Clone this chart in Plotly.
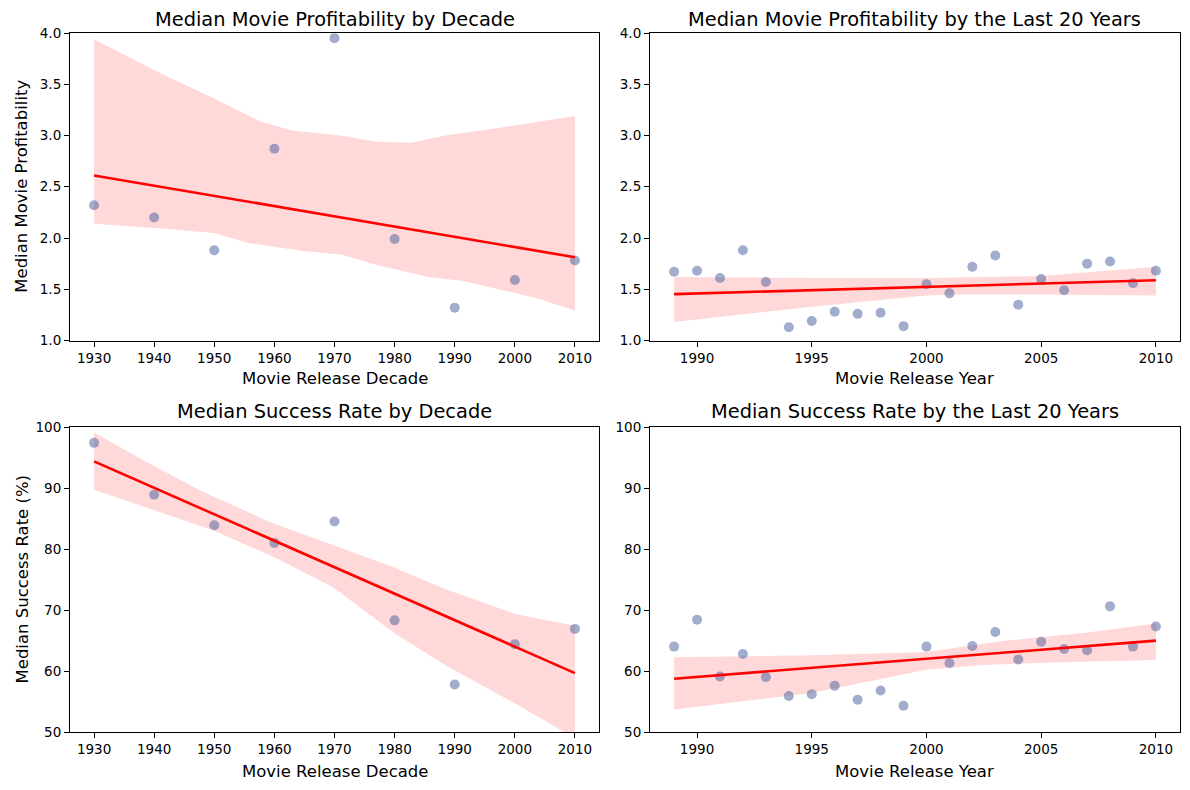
import numpy as np
import plotly.graph_objects as go

# ---------------- data ----------------
decades = [1930, 1940, 1950, 1960, 1970, 1980, 1990, 2000, 2010]
decade_profit = [2.32, 2.20, 1.88, 2.87, 3.95, 1.99, 1.32, 1.59, 1.78]
decade_success = [97.4, 88.9, 83.9, 81.0, 84.5, 68.3, 57.8, 64.4, 66.9]

years = list(range(1989, 2011))
year_profit = [1.67, 1.68, 1.61, 1.88, 1.57, 1.13, 1.19, 1.28, 1.26, 1.27, 1.14,
               1.55, 1.46, 1.72, 1.83, 1.35, 1.60, 1.49, 1.75, 1.77, 1.56, 1.68]
year_success = [64.0, 68.4, 59.1, 62.8, 59.0, 55.9, 56.2, 57.6, 55.3, 56.8, 54.3,
                64.0, 61.3, 64.1, 66.4, 61.9, 64.8, 63.6, 63.4, 70.6, 64.0, 67.3]

# confidence bands (bootstrap CI)
tl_hi_x = [1930, 1941.3, 1950.0, 1957.6, 1962.9, 1971.0, 1976.9, 1982.7, 1988.5, 1994.4, 2000.2, 2010]
tl_hi = [3.94, 3.60, 3.36, 3.14, 3.05, 3.00, 2.94, 2.93, 3.00, 3.05, 3.10, 3.19]
tl_lo_x = [1930, 1941.8, 1950.0, 1955.8, 1959.3, 1965.2, 1971.0, 1976.9, 1980.4, 1985.6, 1991.4, 2000.2, 2004.3, 2010]
tl_lo = [2.14, 2.09, 2.05, 1.95, 1.92, 1.87, 1.84, 1.74, 1.69, 1.62, 1.58, 1.46, 1.40, 1.29]

tr_hi_x = [1989, 1995, 2000, 2003, 2005, 2010]
tr_hi = [1.62, 1.61, 1.61, 1.62, 1.63, 1.72]
tr_lo_x = [1989, 1995, 2000, 2001, 2005, 2010]
tr_lo = [1.18, 1.33, 1.44, 1.45, 1.45, 1.44]

bl_hi_x = [1930, 1938.9, 1947.7, 1959.3, 1969.3, 1979.8, 1988.5, 2000.2, 2010]
bl_hi = [99.1, 94.2, 89.6, 84.4, 80.8, 77.0, 73.4, 69.3, 67.4]
bl_lo_x = [1930, 1938.9, 1950.0, 1960.5, 1969.8, 1979.8, 1988.5, 2000.2, 2008.4, 2010]
bl_lo = [89.7, 86.7, 83.0, 78.4, 73.7, 66.3, 60.9, 54.6, 49.9, 48.5]

br_hi_x = [1989, 1995, 2000, 2003.3, 2007, 2010]
br_hi = [62.25, 62.6, 63.1, 64.9, 66.3, 67.8]
br_lo_x = [1989, 1995, 2000, 2002.5, 2005.5, 2010]
br_lo = [53.7, 56.4, 60.2, 61.0, 61.4, 61.8]

titles = ["Median Movie Profitability by Decade",
          "Median Movie Profitability by the Last 20 Years",
          "Median Success Rate by Decade",
          "Median Success Rate by the Last 20 Years"]
xlabels = ["Movie Release Decade", "Movie Release Year"]
ylabels = ["Median Movie Profitability", "Median Success Rate (%)"]

# ---------------- layout geometry ----------------
W, H = 1190, 790
def px_x(p):
    return p / W
def px_y(p):
    return 1 - p / H

col_dom = [(px_x(70), px_x(599)), (px_x(650), px_x(1180))]
row_dom = [(px_y(340.5), px_y(33)), (px_y(732), px_y(427))]

FONT = "DejaVu Sans"
POINT = "rgba(70,92,155,0.5)"
BAND = "rgba(255,0,0,0.15)"

fig = go.Figure()

panels = [
    (0, 0, decades, decade_profit, tl_hi_x, tl_hi, tl_lo_x, tl_lo),
    (0, 1, years, year_profit, tr_hi_x, tr_hi, tr_lo_x, tr_lo),
    (1, 0, decades, decade_success, bl_hi_x, bl_hi, bl_lo_x, bl_lo),
    (1, 1, years, year_success, br_hi_x, br_hi, br_lo_x, br_lo),
]

for i, (r, c, xs, ys, hx, hy, lx, ly) in enumerate(panels):
    n = i + 1
    xa = "x" if n == 1 else f"x{n}"
    ya = "y" if n == 1 else f"y{n}"
    # band
    fig.add_trace(go.Scatter(x=list(hx) + list(lx)[::-1], y=list(hy) + list(ly)[::-1],
                             fill="toself", fillcolor=BAND, line=dict(width=0),
                             mode="lines", hoverinfo="skip", showlegend=False,
                             xaxis=xa, yaxis=ya))
    # points
    fig.add_trace(go.Scatter(x=xs, y=ys, mode="markers",
                             marker=dict(size=10, color=POINT, line=dict(width=0)),
                             showlegend=False, xaxis=xa, yaxis=ya))
    # regression line
    k, b = np.polyfit(np.array(xs, float), np.array(ys, float), 1)
    lx_ = np.array([min(xs), max(xs)], float)
    fig.add_trace(go.Scatter(x=lx_, y=k * lx_ + b, mode="lines",
                             line=dict(color="red", width=2.6),
                             showlegend=False, xaxis=xa, yaxis=ya))

    if c == 0:
        xr = [1926, 2014]
        xt = decades
    else:
        xr = [1987.95, 2011.05]
        xt = [1990, 1995, 2000, 2005, 2010]
    if r == 0:
        yr = [1.0, 4.0]
        yt = [1.0, 1.5, 2.0, 2.5, 3.0, 3.5, 4.0]
        yfmt = ".1f"
    else:
        yr = [50, 100]
        yt = [50, 60, 70, 80, 90, 100]
        yfmt = "d"
    axcommon = dict(showgrid=False, zeroline=False, showline=True, mirror=True,
                    linecolor="black", linewidth=1.1, ticks="outside", ticklen=5,
                    tickwidth=1.1, tickcolor="black", automargin=False,
                    tickfont=dict(family=FONT, size=13.5, color="black"))
    fig.layout[f"xaxis{'' if n == 1 else n}"] = dict(
        domain=col_dom[c], range=xr, tickvals=xt, anchor=ya, **axcommon)
    fig.layout[f"yaxis{'' if n == 1 else n}"] = dict(
        domain=row_dom[r], range=yr, tickvals=yt, tickformat=yfmt, anchor=xa, **axcommon)

    cx = (col_dom[c][0] + col_dom[c][1]) / 2
    cy = (row_dom[r][0] + row_dom[r][1]) / 2
    title_y = 19 if r == 0 else 411
    xlab_y = 378 if r == 0 else 771
    fig.add_annotation(text=titles[i], x=cx, y=px_y(title_y), xref="paper", yref="paper",
                       xanchor="center", yanchor="middle", showarrow=False,
                       font=dict(family=FONT, size=19.4, color="black"))
    fig.add_annotation(text=xlabels[c], x=cx, y=px_y(xlab_y), xref="paper", yref="paper",
                       xanchor="center", yanchor="middle", showarrow=False,
                       font=dict(family=FONT, size=16.5, color="black"))
    if c == 0:
        fig.add_annotation(text=ylabels[r], x=px_x(22), y=cy, xref="paper", yref="paper",
                           xanchor="center", yanchor="middle", showarrow=False, textangle=-90,
                           font=dict(family=FONT, size=16.5, color="black"))

fig.update_layout(width=W, height=H, margin=dict(l=0, r=0, t=0, b=0, pad=0, autoexpand=False),
                  paper_bgcolor="white", plot_bgcolor="white",
                  font=dict(family=FONT, color="black"))

fig.write_html("out.html", config={"displayModeBar": False},
               post_script="document.body.style.margin='0';document.body.style.padding='0';")
